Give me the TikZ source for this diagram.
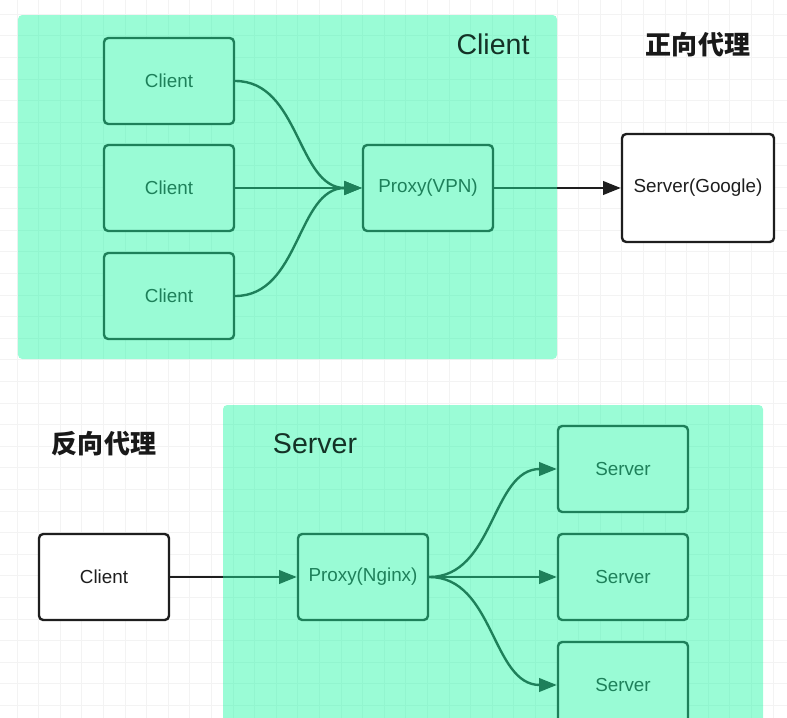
\documentclass[tikz,border=0pt]{standalone}
\usepackage{fontspec}
\setmainfont{Liberation Sans}
\setsansfont{Liberation Sans}
\newfontfamily\cjk{Noto Sans CJK SC}
\usetikzlibrary{arrows.meta}
\definecolor{mint}{RGB}{30,248,164}
\definecolor{ink}{RGB}{30,30,30}
\definecolor{titleink}{RGB}{20,50,38}
\definecolor{gridgray}{RGB}{243,243,243}
\begin{document}
\begin{tikzpicture}[line join=round, line cap=round, >={Triangle[length=12.5pt,width=9.5pt]},
  box/.style={draw=ink, fill=white, rounded corners=3pt, line width=1.7pt, minimum width=3.25cm, minimum height=2.15cm, text=ink, font=\fontsize{13.4}{16}\selectfont},
  link/.style={->, draw=ink, line width=1.7pt},
  panel/.style={fill=mint, fill opacity=0.45, rounded corners=3pt},
  title/.style={text=titleink, font=\fontsize{20.3}{24}\selectfont},
  cntitle/.style={text=black!90, font=\cjk\bfseries\fontsize{18.5}{22}\selectfont}]
\useasboundingbox (0,0) rectangle (19.675,-17.95);
\clip (0,0) rectangle (19.675,-17.95);
\draw[gridgray, line width=0.4pt, shift={(0.4225,-0.3525)}] (-1,1) grid[step=0.54] (20,-19);
% forward proxy
\foreach \y [count=\i] in {-2.025,-4.7,-7.4}
  \node[box] (c\i) at (4.225,\y) {Client};
\node[box] (vpn) at (10.7,-4.7) {Proxy(VPN)};
\node[box, minimum width=3.8cm, minimum height=2.7cm] (google) at (17.45,-4.7) {Server(Google)};
\foreach \i in {1,2,3}
  \draw[link] (c\i.east) to[out=0,in=180] (vpn.west);
\draw[link] (vpn) -- (google);
% reverse proxy
\node[box] (client) at (2.6,-14.425) {Client};
\node[box] (nginx) at (9.075,-14.425) {Proxy(Nginx)};
\foreach \y [count=\i] in {-11.725,-14.425,-17.125}
  \node[box] (s\i) at (15.575,\y) {Server};
\draw[link] (client) -- (nginx);
\foreach \i in {1,2,3}
  \draw[link] (nginx.east) to[out=0,in=180] (s\i.west);
% panels and titles
\fill[panel] (0.45,-0.375) rectangle (13.925,-8.975);
\fill[panel] (5.575,-10.125) rectangle (19.075,-18.5);
\node[title] (ctitle) at (12.325,-1.1) {Client};
\node[title] (stitle) at (7.875,-11.1) {Server};
\node[cntitle] (fwd) at (17.45,-1.125) {正向代理};
\node[cntitle] (rev) at (2.6,-11.1) {反向代理};
\end{tikzpicture}
\end{document}
